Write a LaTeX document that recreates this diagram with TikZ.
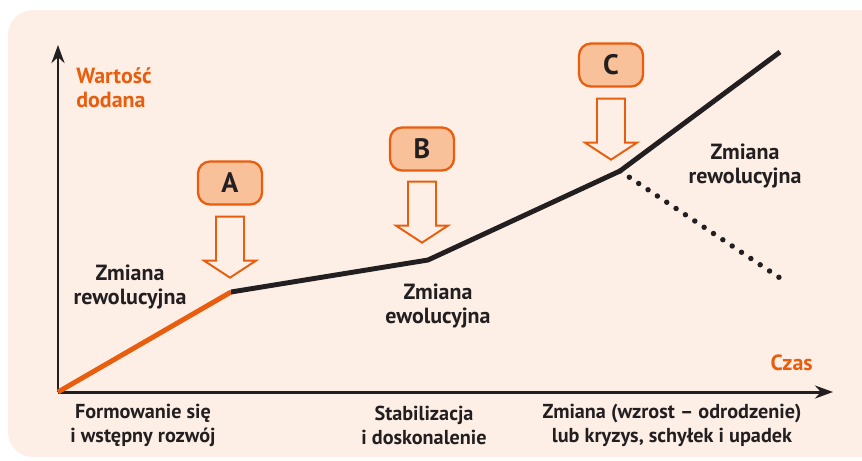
\documentclass[tikz,border=0pt]{standalone}
\usepackage{fontspec}
\setmainfont{PT Sans}
\usepackage{tikz}
\usetikzlibrary{arrows.meta}
\definecolor{cvbg}{RGB}{253,239,230}
\definecolor{cvorange}{RGB}{232,94,14}
\definecolor{cvfill}{RGB}{248,193,154}
\definecolor{cvink}{RGB}{35,31,32}
\tikzset{
  lbl/.style={font=\bfseries\fontsize{11.5}{13.6}\selectfont, text=cvink, align=center, inner sep=0pt},
  biglbl/.style={lbl, font=\bfseries\fontsize{12.5}{13.8}\selectfont},
  axlbl/.style={biglbl, text=cvorange, align=left},
  stagebox/.style={draw=cvorange, line width=1.3pt, fill=cvfill, rounded corners=0.24cm,
    minimum width=1.28cm, minimum height=0.86cm, inner sep=0pt, text=cvink,
    font=\bfseries\fontsize{16}{18}\selectfont},
  downarrow/.pic={
    \draw[cvorange, line width=1.1pt, fill=cvbg, line join=miter]
      (-14,0) -- (14,0) -- (14,44) -- (26,44) -- (0,61) -- (-26,44) -- (-14,44) -- cycle;
  }
}

\begin{document}
\begin{tikzpicture}[x=0.02cm, y=-0.02cm]
    \useasboundingbox (0,0) rectangle (862,460);
    \begin{scope}
      \clip (0,0) rectangle (862,460);
      \fill[cvbg, rounded corners=0.5cm] (8,10) rectangle (900,457);
    \end{scope}

    % axes
    \coordinate (o) at (58,392);
    \coordinate (ytip) at (58,45);
    \coordinate (xtip) at (833,392);
    \draw[cvink, line width=1.7pt, -{Stealth[length=0.36cm, width=0.26cm]}] (o) -- (ytip);
    \draw[cvink, line width=1.7pt, -{Stealth[length=0.36cm, width=0.26cm]}] (o) -- (xtip);
    \node[axlbl, anchor=west] (wartosc) at (76,88) {Wartość\\dodana};
    \node[axlbl, anchor=base east] (czas) at (813,370) {Czas};

    % curve
    \coordinate (pa) at (231,292);
    \coordinate (pb) at (428,260);
    \coordinate (pc) at (620,171);
    \coordinate (pend) at (780,52);
    \coordinate (pdrop) at (783,280);
    \draw[cvorange, line width=2.8pt] (o) -- (pa);
    \draw[cvink, line width=2.8pt, line join=round] (pa) -- (pb) -- (pc) -- (pend);
    \draw[cvink, line width=3.1pt, line cap=round, dash pattern=on 0pt off 6.4pt, dash phase=-6.4pt] (pc) -- (pdrop);

    % stages
    \node[stagebox] (boxA) at (230,183) {A};
    \node[stagebox] (boxB) at (422,149) {B};
    \node[stagebox] (boxC) at (611,65) {C};
    \path (boxA.south) ++(0,11) pic {downarrow};
    \path (boxB.south) ++(0,10) pic {downarrow};
    \path (boxC.south) ++(0,11) pic {downarrow};

    \node[biglbl] (zmA) at (130,287) {Zmiana\\rewolucyjna};
    \node[biglbl] (zmB) at (438,306) {Zmiana\\ewolucyjna};
    \node[biglbl] (zmC) at (745,166) {Zmiana\\rewolucyjna};

    % phases
    \node[lbl] (faza1) at (143,425) {Formowanie się\\i wstępny rozwój};
    \node[lbl] (faza2) at (424,425) {Stabilizacja\\i doskonalenie};
    \node[lbl] (faza3) at (672,425) {Zmiana (wzrost – odrodzenie)\\lub kryzys, schyłek i upadek};
  \end{tikzpicture}
\end{document}
